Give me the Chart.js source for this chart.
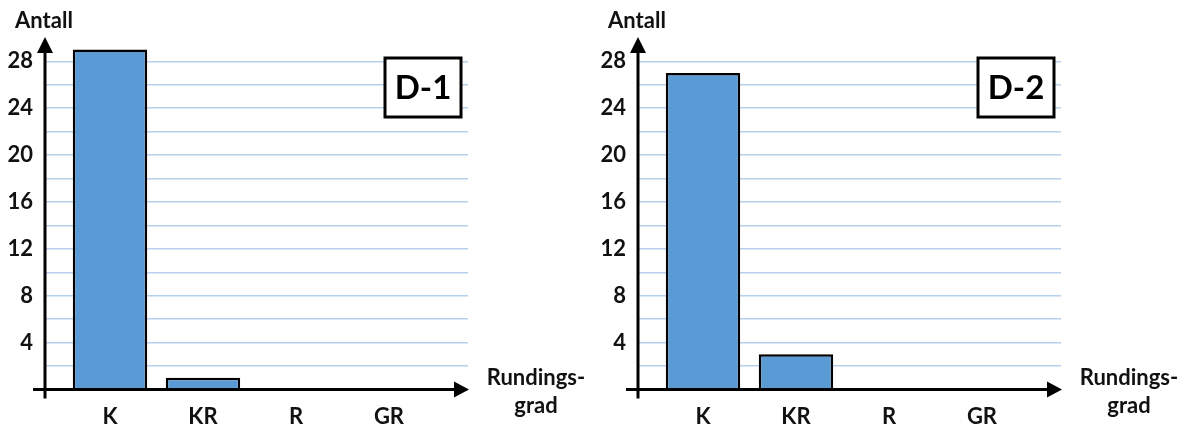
<!DOCTYPE html>
<html>
<head>
<meta charset="utf-8">
<script src="https://cdn.jsdelivr.net/npm/chart.js@4.4.0/dist/chart.umd.min.js"></script>
<style>
  body { margin: 0; background: #fff; }
  #wrap { display: flex; width: 1186px; height: 425px; }
  .panel { position: relative; width: 593px; height: 425px; }
</style>
</head>
<body>
<div id="wrap">
  <div class="panel"><canvas id="chartD1"></canvas></div>
  <div class="panel"><canvas id="chartD2"></canvas></div>
</div>
<script>
const categories = ['K', 'KR', 'R', 'GR'];
const countsD1 = [29, 1, 0, 0];
const countsD2 = [27, 3, 0, 0];
const yTickLabels = [4, 8, 12, 16, 20, 24, 28];
const yTitle = 'Antall';
const xTitle = ['Rundings-', 'grad'];

const FONT = 'Lato, "Open Sans", sans-serif';
const TEXT = '#111';

// axes with arrows, axis titles and the D-x tag box
const axesPlugin = {
  id: 'axesAndLabels',
  afterDatasetsDraw(chart, args, opts) {
    const ctx = chart.ctx;
    const area = chart.chartArea;
    const x0 = area.left;
    const y0 = chart.scales.y.getPixelForValue(0);
    ctx.save();
    ctx.strokeStyle = '#000';
    ctx.fillStyle = '#000';
    ctx.lineWidth = 3;
    ctx.beginPath();
    ctx.moveTo(x0, y0 + 9);
    ctx.lineTo(x0, area.top + 10);
    ctx.moveTo(x0 - 12, y0);
    ctx.lineTo(area.right - 10, y0);
    ctx.stroke();
    // y arrow
    ctx.beginPath();
    ctx.moveTo(x0, area.top - 2);
    ctx.lineTo(x0 - 8, area.top + 14);
    ctx.lineTo(x0 + 8, area.top + 14);
    ctx.closePath();
    ctx.fill();
    // x arrow
    ctx.beginPath();
    ctx.moveTo(area.right + 1, y0);
    ctx.lineTo(area.right - 14, y0 - 8);
    ctx.lineTo(area.right - 14, y0 + 8);
    ctx.closePath();
    ctx.fill();

    ctx.fillStyle = TEXT;
    ctx.font = 'bold 22px ' + FONT;
    ctx.textAlign = 'center';
    ctx.textBaseline = 'alphabetic';
    ctx.fillText(yTitle, x0 - 1, 28);
    ctx.fillText(xTitle[0], area.right + 68, 385);
    ctx.fillText(xTitle[1], area.right + 68, 413);

    // tag box
    const bx = area.right - 83, by = 58, bw = 76, bh = 59;
    ctx.fillStyle = '#fff';
    ctx.fillRect(bx, by, bw, bh);
    ctx.strokeStyle = '#000';
    ctx.lineWidth = 3;
    ctx.strokeRect(bx, by, bw, bh);
    ctx.fillStyle = '#000';
    ctx.font = 'bold 33px ' + FONT;
    ctx.textBaseline = 'middle';
    ctx.fillText(opts.tag, bx + bw / 2, by + bh / 2 + 1);
    ctx.restore();
  }
};

function makeChart(id, counts, tag) {
  return new Chart(id, {
    type: 'bar',
    data: {
      datasets: [{
        data: counts.map((v, i) => ({x: i, y: v})),
        backgroundColor: '#5B9BD5',
        borderColor: '#000',
        borderWidth: 2.5,
        categoryPercentage: 0.8,
        barPercentage: 1.0
      }]
    },
    options: {
      responsive: true,
      maintainAspectRatio: false,
      animation: false,
      layout: { padding: { top: 39, right: 125, left: 0, bottom: 0 } },
      plugins: {
        legend: { display: false },
        tooltip: { enabled: false },
        axesAndLabels: { tag: tag }
      },
      scales: {
        x: {
          type: 'linear',
          offset: false,
          min: -0.699,
          max: 3.85,
          afterFit: function(scale) { scale.height = 35.5; },
          grid: { display: false, drawTicks: false, offset: false },
          border: { display: false },
          ticks: {
            stepSize: 1,
            includeBounds: false,
            padding: 14,
            color: TEXT,
            font: { family: FONT, size: 22, weight: 'bold' },
            maxRotation: 0,
            autoSkip: false,
            callback: function(value) { return categories[value] ?? ''; }
          }
        },
        y: {
          min: 0,
          max: 29.9,
          afterFit: function(scale) { scale.width = 45; },
          grid: { color: '#B7D0EC', lineWidth: 1.5, drawTicks: false },
          border: { display: false },
          ticks: {
            stepSize: 2,
            includeBounds: false,
            padding: 12,
            color: TEXT,
            font: { family: FONT, size: 22, weight: 'bold' },
            autoSkip: false,
            callback: function(value) { return yTickLabels.includes(value) ? value : ''; }
          }
        }
      }
    },
    plugins: [axesPlugin]
  });
}

makeChart('chartD1', countsD1, 'D-1');
makeChart('chartD2', countsD2, 'D-2');
</script>
</body>
</html>
